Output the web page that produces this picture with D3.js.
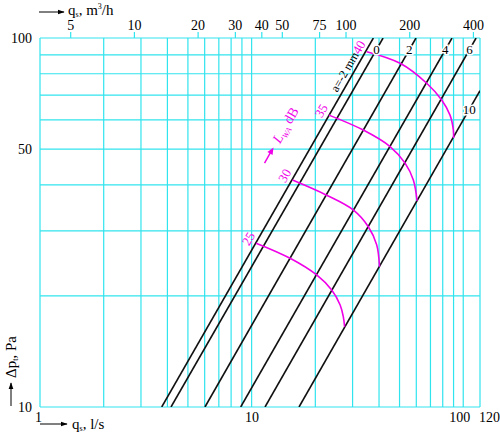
<!DOCTYPE html>
<html>
<head>
<meta charset="utf-8">
<script src="https://cdn.jsdelivr.net/npm/d3@7"></script>
<style>
  body { margin: 0; background: #fff; }
  text { font-family: "Liberation Serif", "Times New Roman", serif; }
</style>
</head>
<body>
<svg></svg>
<script>
// grid + tick values
let xGrid = [1,2,3,4,5,6,7,8,9,10,20,30,40,50,60,70,80,90,100,120];
let yGrid = [10,20,30,40,50,60,70,80,90,100];
let xLabels = [1,10,100,120];
let yLabels = [10,50,100];
let topLabels = [5,10,20,30,40,50,75,100,200,400]; // m3/h

// black lines: [q l/s, dp Pa] at both ends
let lineNames = ['a=-2 mm','0','2','4','6','10'];
let lineFrom = [[3.76,10],[4.16,10],[6.02,10],[8.88,10],[11.57,10],[16.75,10]];
let lineTo = [[37.6,100],[41.8,100],[59.8,100],[88.5,100],[115,100],[120,72]];
let lineLabelDp = [79,93,93,93,93,64];

// sound level curves (L_WA, dB)
let levels = [25,30,35,40];
let curve25 = [[10.5,27.8],[15.2,25.3],[20.3,22.8],[23.9,20.75],[26.2,18.9],[27.1,17.6],[27.5,16.5]];
let curve30 = [[15.6,41.2],[22.6,37.5],[30.2,34.2],[35.6,30.8],[39.0,27.5],[40.2,24.0]];
let curve35 = [[23.2,61.8],[33.7,56.3],[45.1,50.8],[53.1,45.8],[58.1,41.2],[60.5,36.2]];
let curve40 = [[35.0,91.8],[50.3,85.4],[67.2,75.4],[79.1,67.9],[86.6,61.8],[89.8,56.3],[90.0,53.6]];
let curves = [curve25,curve30,curve35,curve40];

let width = 500, height = 442;
let pLeft = 40, pRight = 480, pTop = 38, pBottom = 407;
let gridColor = '#30e4ee';
let magenta = '#f000e8';

let svg = d3.select('svg').attr('width',width).attr('height',height);

let x = d3.scaleLog().domain([1,120]).range([pLeft,pRight]);
let y = d3.scaleLog().domain([10,100]).range([pBottom,pTop]);
let xTop = d3.scaleLog().domain([3.6,120*3.6]).range([pLeft,pRight]);

// angle of the lines on screen (slope 1 in log-log)
let ang = -Math.atan2(y(10)-y(100), x(10)-x(1))*180/Math.PI;

let defs = svg.append('defs');
defs.append('clipPath').attr('id','plot')
   .append('rect').attr('x',pLeft).attr('y',pTop).attr('width',pRight-pLeft).attr('height',pBottom-pTop);
defs.append('marker').attr('id','arr')
   .attr('viewBox','0 0 10 10').attr('refX',9).attr('refY',5)
   .attr('markerWidth',7).attr('markerHeight',7).attr('orient','auto')
   .append('path').attr('d','M0,1.5L10,5L0,8.5Z').attr('fill','#000');

// grid
let grid = svg.append('g');
grid.selectAll('.vx').data(xGrid).enter().append('line')
    .attr('x1',d=>x(d)).attr('x2',d=>x(d)).attr('y1',pTop).attr('y2',pBottom)
    .attr('stroke',gridColor).attr('stroke-width',1.2);
grid.selectAll('.hy').data(yGrid).enter().append('line')
    .attr('x1',pLeft).attr('x2',pRight).attr('y1',d=>y(d)).attr('y2',d=>y(d))
    .attr('stroke',gridColor).attr('stroke-width',1.2);

// axes
let bottomAxis = svg.append('g').attr('transform','translate(0,'+pBottom+')')
   .call(d3.axisBottom(x).tickValues(xLabels).tickSize(0).tickPadding(5).tickFormat(d3.format('d')));
bottomAxis.select('.domain').remove();
bottomAxis.selectAll('text').attr('font-size',14).attr('fill','#000')
   .attr('dx',d=>d==1?-2:(d==100?-4:(d==120?9:0)));

let leftAxis = svg.append('g').attr('transform','translate('+pLeft+',0)')
   .call(d3.axisLeft(y).tickValues(yLabels).tickSize(0).tickPadding(8).tickFormat(d3.format('d')));
leftAxis.select('.domain').remove();
leftAxis.selectAll('text').attr('font-size',14).attr('fill','#000');

let topAxis = svg.append('g').attr('transform','translate(0,'+pTop+')')
   .call(d3.axisTop(xTop).tickValues(topLabels).tickSize(6).tickPadding(2).tickFormat(d3.format('d')));
topAxis.select('.domain').remove();
topAxis.selectAll('line').attr('stroke',gridColor).attr('stroke-width',1.2);
topAxis.selectAll('text').attr('font-size',14).attr('fill','#000');

// black lines
let plot = svg.append('g').attr('clip-path','url(#plot)');
plot.selectAll('.ln').data(lineNames).enter().append('line')
    .attr('x1',(d,i)=>x(lineFrom[i][0])).attr('y1',(d,i)=>y(lineFrom[i][1]))
    .attr('x2',(d,i)=>x(lineTo[i][0])).attr('y2',(d,i)=>y(lineTo[i][1]))
    .attr('stroke','#111').attr('stroke-width',1.6);

// magenta curves
let curveLine = d3.line().x(d=>x(d[0])).y(d=>y(d[1])).curve(d3.curveCatmullRom);
plot.selectAll('.cv').data(curves).enter().append('path')
    .attr('d',curveLine).attr('fill','none').attr('stroke',magenta).attr('stroke-width',1.6);

// line labels
let qOnLine = (i,dp) => {
  let t = (Math.log(dp)-Math.log(lineFrom[i][1]))/(Math.log(lineTo[i][1])-Math.log(lineFrom[i][1]));
  return Math.exp(Math.log(lineFrom[i][0])+t*(Math.log(lineTo[i][0])-Math.log(lineFrom[i][0])));
};
lineNames.forEach((name,i)=>{
  let px = x(qOnLine(i,lineLabelDp[i])), py = y(lineLabelDp[i]);
  if (i==0) {
    svg.append('text').attr('transform','translate('+px+','+py+') rotate('+ang+')')
       .attr('text-anchor','middle').attr('dy',-4).attr('font-size',12).text(name);
  } else {
    svg.append('text').attr('x',px).attr('y',py).attr('text-anchor','middle')
       .attr('dominant-baseline','central').attr('font-size',13)
       .attr('stroke','#fff').attr('stroke-width',3).attr('paint-order','stroke').text(name);
  }
});

// level labels
levels.forEach((lv,i)=>{
  let p = curves[i][0];
  svg.append('text').attr('transform','translate('+x(p[0])+','+y(p[1])+') rotate('+ang+')')
     .attr('text-anchor','middle').attr('y',-9).attr('dominant-baseline','central')
     .attr('font-size',13).attr('fill',magenta).text(lv);
});

// L_WA label with arrow
let lg = svg.append('g').attr('transform','translate(268,165) rotate('+ang+')');
lg.append('line').attr('x1',0).attr('y1',-4).attr('x2',15).attr('y2',-4)
  .attr('stroke',magenta).attr('stroke-width',1.5);
lg.append('path').attr('d','M11,-7L18,-4L11,-1Z').attr('fill',magenta);
let lt = lg.append('text').attr('x',24).attr('y',0).attr('font-size',14).attr('fill',magenta);
lt.append('tspan').attr('font-style','italic').text('L');
lt.append('tspan').attr('font-size',8).attr('dy',3).attr('font-style','italic').text('WA');
lt.append('tspan').attr('dy',-3).text(' dB');

// axis titles
svg.append('line').attr('x1',39).attr('y1',12).attr('x2',64).attr('y2',12)
   .attr('stroke','#000').attr('stroke-width',1).attr('marker-end','url(#arr)');
let tt = svg.append('text').attr('x',68).attr('y',15).attr('font-size',15);
tt.append('tspan').text('q');
tt.append('tspan').attr('font-size',8).attr('dy',2).text('s');
tt.append('tspan').attr('dy',-2).text(', m');
tt.append('tspan').attr('font-size',8).attr('dy',-6).text('3');
tt.append('tspan').attr('dy',6).text('/h');

svg.append('line').attr('x1',40).attr('y1',424).attr('x2',67).attr('y2',424)
   .attr('stroke','#000').attr('stroke-width',1).attr('marker-end','url(#arr)');
let bt = svg.append('text').attr('x',72).attr('y',429).attr('font-size',15);
bt.append('tspan').text('q');
bt.append('tspan').attr('font-size',8).attr('dy',2).text('s');
bt.append('tspan').attr('dy',-2).text(', l/s');

svg.append('line').attr('x1',11).attr('y1',406).attr('x2',11).attr('y2',383)
   .attr('stroke','#000').attr('stroke-width',1).attr('marker-end','url(#arr)');
let lt2 = svg.append('text').attr('transform','translate(16,378) rotate(-90)').attr('font-size',15);
lt2.append('tspan').text('Δp');
lt2.append('tspan').attr('font-size',8).attr('dy',2).text('t');
lt2.append('tspan').attr('dy',-2).text(', Pa');
</script>
</body>
</html>
